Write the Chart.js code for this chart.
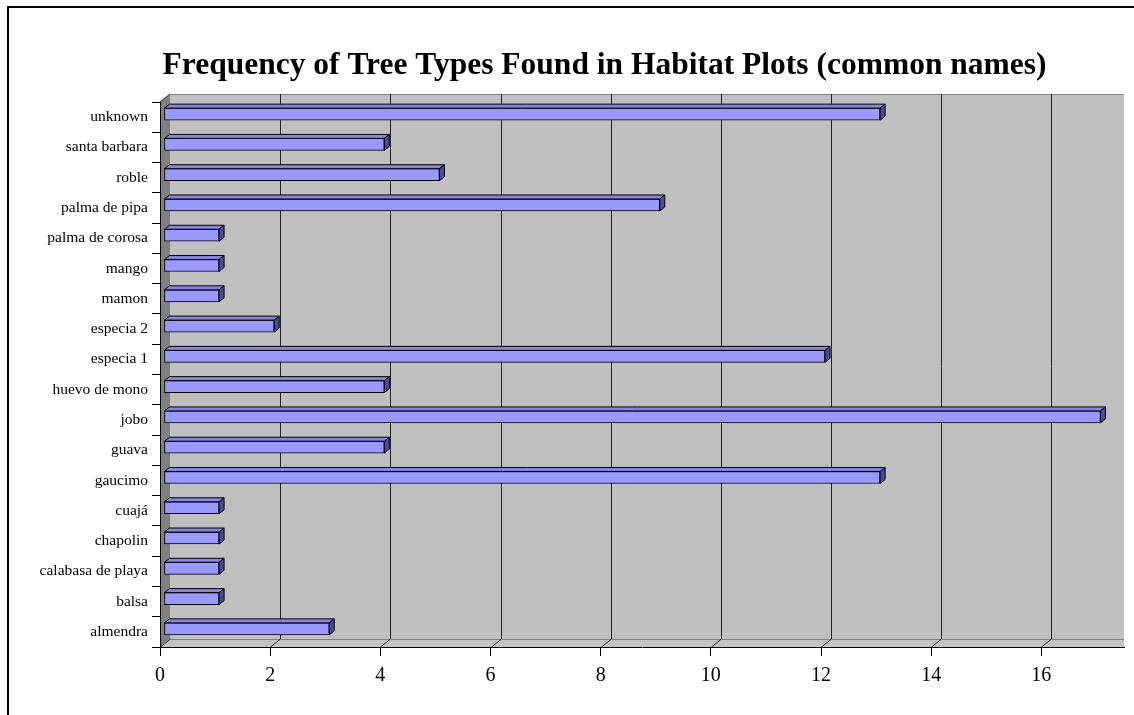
<!DOCTYPE html>
<html>
<head>
<meta charset="utf-8">
<script src="https://cdn.jsdelivr.net/npm/chart.js@4.4.0/dist/chart.umd.min.js"></script>
<style>
  html, body { margin: 0; padding: 0; background: #ffffff; }
  canvas { display: block; }
</style>
</head>
<body>
<canvas id="c" width="1134" height="715"></canvas>
<script>
// ---- data ----
const categories = [
  "unknown", "santa barbara", "roble", "palma de pipa", "palma de corosa",
  "mango", "mamon", "especia 2", "especia 1", "huevo de mono", "jobo",
  "guava", "gaucimo", "cuajá", "chapolin", "calabasa de playa", "balsa", "almendra"
];
const frequencies = [13, 4, 5, 9, 1, 1, 1, 2, 12, 4, 17, 4, 13, 1, 1, 1, 1, 3];
const titleText = "Frequency of Tree Types Found in Habitat Plots (common names)";
const xTickStep = 2;
const xMax = 17.5;

// ---- 3D styling constants ----
const WALL_DX = 10, WALL_DY = 8;     // depth of plot walls
const BAR_OX = 4, BAR_OY = -3;       // bar front face offset
const BAR_DX = 5, BAR_DY = 4;        // bar depth

const framePlugin = {
  id: 'frame3d',
  beforeDraw(chart) {
    const ctx = chart.ctx;
    const a = chart.chartArea;
    const xs = chart.scales.x;
    ctx.save();
    // outer frame
    ctx.strokeStyle = '#000';
    ctx.lineWidth = 2;
    ctx.strokeRect(8, 7, 1400, 1000);
    // back wall
    ctx.fillStyle = '#c0c0c0';
    ctx.fillRect(a.left + WALL_DX, a.top - WALL_DY, a.right - a.left - WALL_DX, a.bottom - a.top);
    // floor
    ctx.fillStyle = '#c4c4c4';
    ctx.beginPath();
    ctx.moveTo(a.left, a.bottom);
    ctx.lineTo(a.left + WALL_DX, a.bottom - WALL_DY);
    ctx.lineTo(a.right, a.bottom - WALL_DY);
    ctx.lineTo(a.right, a.bottom);
    ctx.closePath();
    ctx.fill();
    // side wall
    ctx.fillStyle = '#808080';
    ctx.beginPath();
    ctx.moveTo(a.left, a.top);
    ctx.lineTo(a.left + WALL_DX, a.top - WALL_DY);
    ctx.lineTo(a.left + WALL_DX, a.bottom - WALL_DY);
    ctx.lineTo(a.left, a.bottom);
    ctx.closePath();
    ctx.fill();
    // wall edges
    ctx.strokeStyle = '#808080';
    ctx.lineWidth = 1;
    ctx.beginPath();
    ctx.moveTo(a.left + WALL_DX, a.top - WALL_DY + 0.5);
    ctx.lineTo(a.right, a.top - WALL_DY + 0.5);
    ctx.moveTo(a.left + WALL_DX, a.bottom - WALL_DY + 0.5);
    ctx.lineTo(a.right, a.bottom - WALL_DY + 0.5);
    ctx.stroke();
    // gridlines on back wall + floor
    ctx.strokeStyle = '#222';
    ctx.lineWidth = 1;
    ctx.beginPath();
    for (let v = 0; v <= xMax; v += xTickStep) {
      const px = Math.round(xs.getPixelForValue(v)) + 0.5;
      if (v > 0) {
        ctx.moveTo(px + WALL_DX, a.top - WALL_DY);
        ctx.lineTo(px + WALL_DX, a.bottom - WALL_DY);
      }
      ctx.moveTo(px, a.bottom);
      ctx.lineTo(px + WALL_DX, a.bottom - WALL_DY);
    }
    ctx.stroke();
    // top diagonal of side wall
    ctx.beginPath();
    ctx.moveTo(a.left, a.top);
    ctx.lineTo(a.left + WALL_DX, a.top - WALL_DY);
    ctx.stroke();
    ctx.restore();
  },
  beforeDatasetsDraw(chart) {
    chart.ctx.save();
    chart.ctx.translate(BAR_OX, BAR_OY);
  },
  afterDatasetsDraw(chart) {
    const ctx = chart.ctx;
    ctx.restore();
    ctx.save();
    ctx.lineWidth = 1;
    ctx.strokeStyle = '#000';
    ctx.lineJoin = 'miter';
    chart.getDatasetMeta(0).data.forEach(el => {
      const p = el.getProps(['x', 'y', 'base', 'height'], true);
      const x0 = p.base + BAR_OX, x1 = p.x + BAR_OX;
      const t = p.y - p.height / 2 + BAR_OY, b = p.y + p.height / 2 + BAR_OY;
      // top face
      ctx.fillStyle = '#8686e0';
      ctx.beginPath();
      ctx.moveTo(x0, t);
      ctx.lineTo(x0 + BAR_DX, t - BAR_DY);
      ctx.lineTo(x1 + BAR_DX, t - BAR_DY);
      ctx.lineTo(x1, t);
      ctx.closePath();
      ctx.fill(); ctx.stroke();
      // end face
      ctx.fillStyle = '#4c4c8c';
      ctx.beginPath();
      ctx.moveTo(x1, t);
      ctx.lineTo(x1 + BAR_DX, t - BAR_DY);
      ctx.lineTo(x1 + BAR_DX, b - BAR_DY);
      ctx.lineTo(x1, b);
      ctx.closePath();
      ctx.fill(); ctx.stroke();
    });
    ctx.restore();
  },
  afterDraw(chart) {
    const ctx = chart.ctx;
    ctx.save();
    ctx.fillStyle = '#000';
    ctx.font = 'bold 31.5px "Liberation Serif"';
    ctx.textAlign = 'center';
    ctx.textBaseline = 'alphabetic';
    ctx.fillText(titleText, 604.5, 74);
    ctx.restore();
  }
};

new Chart(document.getElementById('c'), {
  type: 'bar',
  data: {
    labels: categories,
    datasets: [{
      data: frequencies,
      backgroundColor: '#9999ff',
      borderColor: '#000000',
      borderWidth: 1,
      borderSkipped: false,
      barThickness: 12
    }]
  },
  options: {
    indexAxis: 'y',
    responsive: false,
    animation: false,
    events: [],
    layout: { padding: { left: 0, right: 10, top: 102, bottom: 0 } },
    plugins: {
      legend: { display: false },
      tooltip: { enabled: false },
      title: { display: false }
    },
    scales: {
      x: {
        min: 0,
        max: xMax,
        afterFit(s) { s.height = 68; },
        ticks: {
          stepSize: xTickStep,
          includeBounds: false,
          color: '#000',
          font: { family: 'Liberation Serif', size: 20 },
          padding: 8,
          maxRotation: 0
        },
        grid: { display: true, drawOnChartArea: false, tickLength: 9, color: '#000' },
        border: { display: true, color: '#000', width: 1 }
      },
      y: {
        afterFit(s) { s.width = 160; },
        ticks: {
          color: '#000',
          font: { family: 'Liberation Serif', size: 15.5 },
          padding: 4,
          autoSkip: false
        },
        grid: { display: true, offset: true, drawOnChartArea: false, tickLength: 8, color: '#000' },
        border: { display: true, color: '#000', width: 1 }
      }
    }
  },
  plugins: [framePlugin]
});
</script>
</body>
</html>
